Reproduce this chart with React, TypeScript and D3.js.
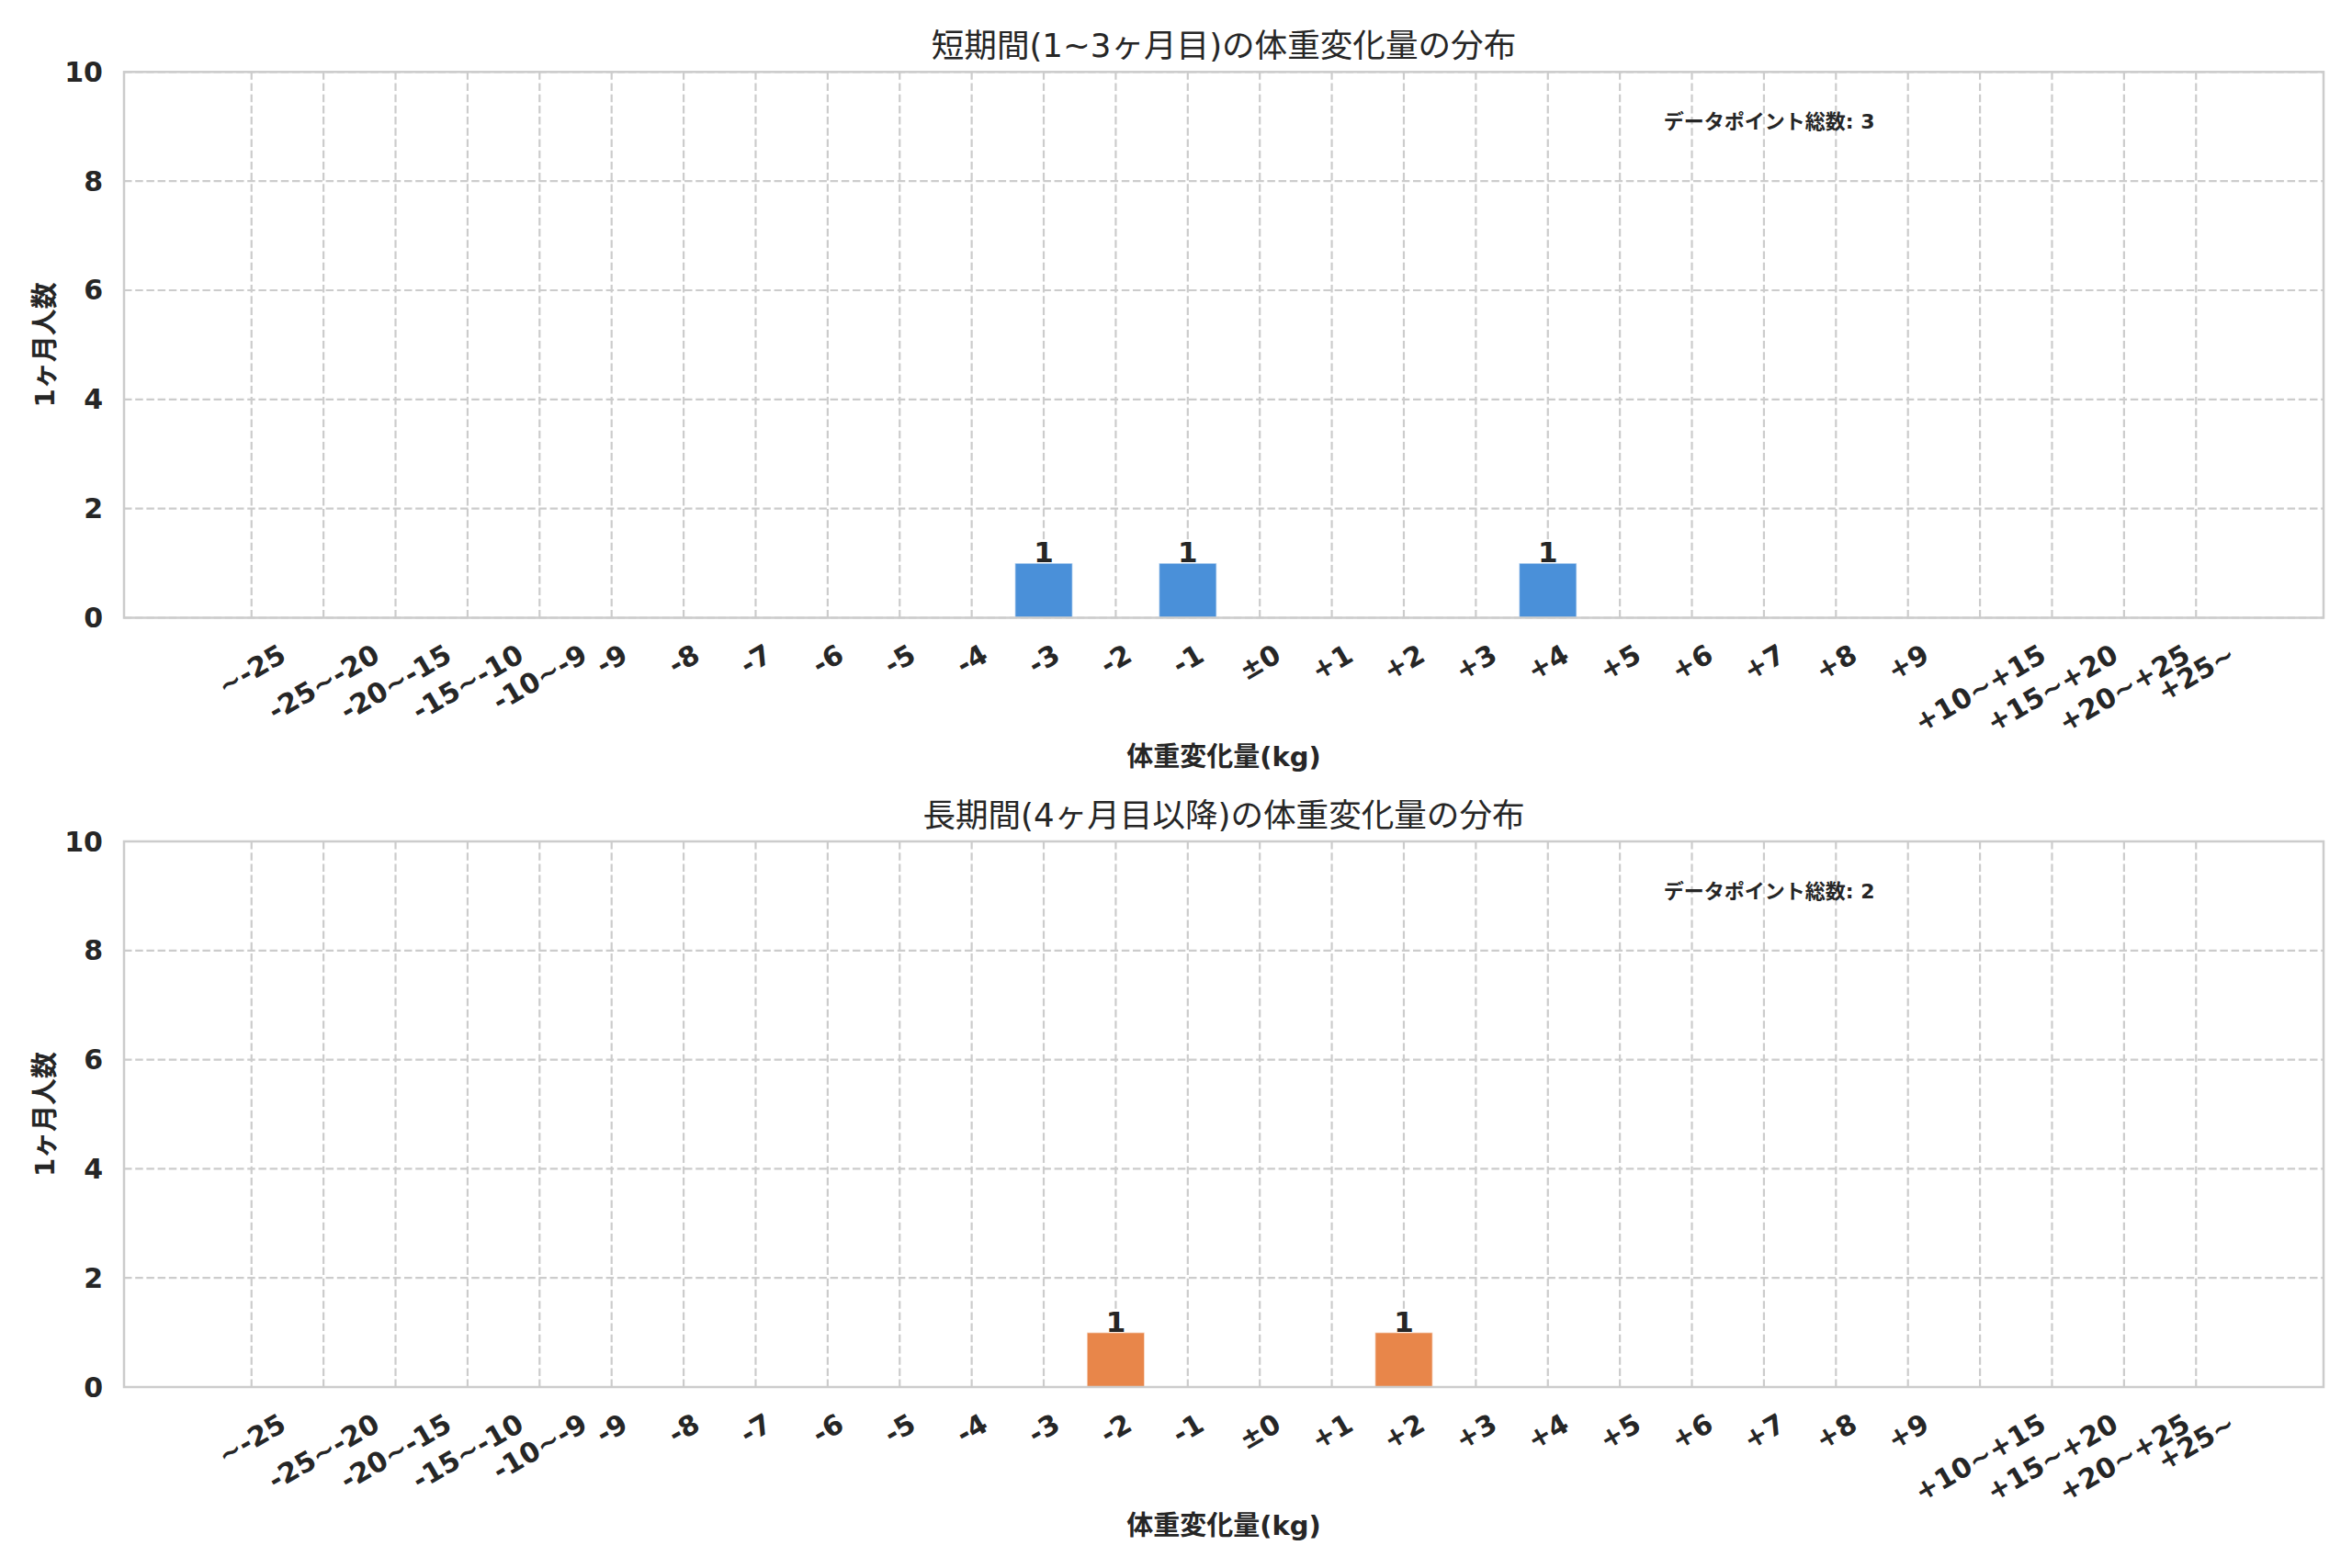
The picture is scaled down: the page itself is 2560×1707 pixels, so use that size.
import * as d3 from "d3";
import { useRef, useEffect } from "react";

// weight change bins (kg)
const categories = [
  "~-25", "-25~-20", "-20~-15", "-15~-10", "-10~-9",
  "-9", "-8", "-7", "-6", "-5", "-4", "-3", "-2", "-1",
  "±0",
  "+1", "+2", "+3", "+4", "+5", "+6", "+7", "+8", "+9",
  "+10~+15", "+15~+20", "+20~+25", "+25~",
];

// counts per bin, short term (1~3 months)
const shortTermCounts = [
  0, 0, 0, 0, 0,
  0, 0, 0, 0, 0, 0, 1, 0, 1,
  0,
  0, 0, 0, 1, 0, 0, 0, 0, 0,
  0, 0, 0, 0,
];

// counts per bin, long term (4 months and later)
const longTermCounts = [
  0, 0, 0, 0, 0,
  0, 0, 0, 0, 0, 0, 0, 1, 0,
  0,
  0, 1, 0, 0, 0, 0, 0, 0, 0,
  0, 0, 0, 0,
];

const panelTitles = [
  "短期間(1~3ヶ月目)の体重変化量の分布",
  "長期間(4ヶ月目以降)の体重変化量の分布",
];
const panelTotals = [3, 2];
const totalLabel = "データポイント総数";
const xLabel = "体重変化量(kg)";
const yLabel = "1ヶ月人数";
const yTicks = [0, 2, 4, 6, 8, 10];
const barColors = ["#4a90d9", "#e8864a"];

export default function App() {
  const svgRef = useRef<SVGSVGElement>(null);

  useEffect(() => {
    const width = 2560;
    const height = 1707;
    const font = "'DejaVu Sans', 'Noto Sans CJK JP', sans-serif";
    const ink = "#262626";
    const gridColor = "#cccccc";

    const svg = d3
      .select(svgRef.current)
      .attr("width", width)
      .attr("height", height)
      .style("font-family", font);
    svg.selectAll("*").remove();

    svg.append("rect").attr("width", width).attr("height", height).attr("fill", "#fff");

    const left = 135;
    const right = 2529;
    const pad = 1.77;
    const x = d3
      .scaleLinear()
      .domain([-pad, categories.length - 1 + pad])
      .range([left, right]);
    const step = x(1) - x(0);

    const panels = [
      { top: 78.3, bottom: 672.5, counts: shortTermCounts },
      { top: 916, bottom: 1510, counts: longTermCounts },
    ];

    panels.forEach((p, pi) => {
      const y = d3.scaleLinear().domain([0, 10]).range([p.bottom, p.top]);
      const g = svg.append("g");

      // grid
      g.selectAll(".vgrid")
        .data(categories)
        .join("line")
        .attr("x1", (_, i) => x(i))
        .attr("x2", (_, i) => x(i))
        .attr("y1", p.top)
        .attr("y2", p.bottom)
        .attr("stroke", gridColor)
        .attr("stroke-width", 2.2)
        .attr("stroke-dasharray", "8.5,3.7");
      g.selectAll(".hgrid")
        .data(yTicks)
        .join("line")
        .attr("x1", left)
        .attr("x2", right)
        .attr("y1", (d) => y(d))
        .attr("y2", (d) => y(d))
        .attr("stroke", gridColor)
        .attr("stroke-width", 2.2)
        .attr("stroke-dasharray", "8.5,3.7");

      // bars
      const bw = step * 0.8;
      g.selectAll(".bar")
        .data(p.counts)
        .join("rect")
        .attr("x", (_, i) => x(i) - bw / 2)
        .attr("width", bw)
        .attr("y", (d) => y(d))
        .attr("height", (d) => y(0) - y(d))
        .attr("fill", barColors[pi])
        .attr("stroke", "#ffffff")
        .attr("stroke-opacity", 0.6)
        .attr("stroke-width", 1.5);

      // bar value labels
      g.selectAll(".blabel")
        .data(p.counts.map((v, i) => ({ v, i })).filter((d) => d.v > 0))
        .join("text")
        .attr("x", (d) => x(d.i))
        .attr("y", (d) => y(d.v) - 1)
        .attr("text-anchor", "middle")
        .attr("font-size", 31)
        .attr("font-weight", "bold")
        .attr("fill", ink)
        .text((d) => d.v);

      // spines
      g.append("rect")
        .attr("x", left)
        .attr("y", p.top)
        .attr("width", right - left)
        .attr("height", p.bottom - p.top)
        .attr("fill", "none")
        .attr("stroke", gridColor)
        .attr("stroke-width", 2.5);

      // y tick labels
      g.selectAll(".ytick")
        .data(yTicks)
        .join("text")
        .attr("x", 112)
        .attr("y", (d) => y(d))
        .attr("text-anchor", "end")
        .attr("dominant-baseline", "central")
        .attr("font-size", 30)
        .attr("font-weight", "bold")
        .attr("fill", ink)
        .text((d) => d);

      // x tick labels, rotated 30deg, centred under the tick
      const fs = 30;
      g.selectAll(".xtick")
        .data(categories)
        .join("text")
        .attr("text-anchor", "middle")
        .attr("dominant-baseline", "central")
        .attr("font-size", fs)
        .attr("font-weight", "bold")
        .attr("fill", ink)
        .text((d) => d)
        .each(function (_, i) {
          const w = (this as SVGTextElement).getComputedTextLength();
          const boxH = w * 0.5 + fs * 1.0 * 0.866;
          const cy = p.bottom + 24 + boxH / 2;
          d3.select(this).attr("transform", `translate(${x(i)},${cy}) rotate(-30)`);
        });

      // title
      g.append("text")
        .attr("x", (left + right) / 2)
        .attr("y", p.top - 16)
        .attr("text-anchor", "middle")
        .attr("font-size", 35.6)
        .attr("fill", ink)
        .text(panelTitles[pi]);

      // x label
      g.append("text")
        .attr("x", (left + right) / 2)
        .attr("y", p.bottom + 161)
        .attr("text-anchor", "middle")
        .attr("font-size", 29)
        .attr("font-weight", "bold")
        .attr("fill", ink)
        .text(xLabel);

      // y label
      g.append("text")
        .attr("transform", `translate(49,${(p.top + p.bottom) / 2}) rotate(-90)`)
        .attr("text-anchor", "middle")
        .attr("dominant-baseline", "central")
        .attr("font-size", 29)
        .attr("font-weight", "bold")
        .attr("fill", ink)
        .text(yLabel);

      // total annotation
      g.append("text")
        .attr("x", left + (right - left) * 0.7)
        .attr("y", p.top + 62)
        .attr("font-size", 22)
        .attr("font-weight", "bold")
        .attr("fill", ink)
        .text(`${totalLabel}: ${panelTotals[pi]}`);
    });
  }, []);

  return <svg ref={svgRef} style={{ position: "absolute", left: 0, top: 0 }} />;
}
